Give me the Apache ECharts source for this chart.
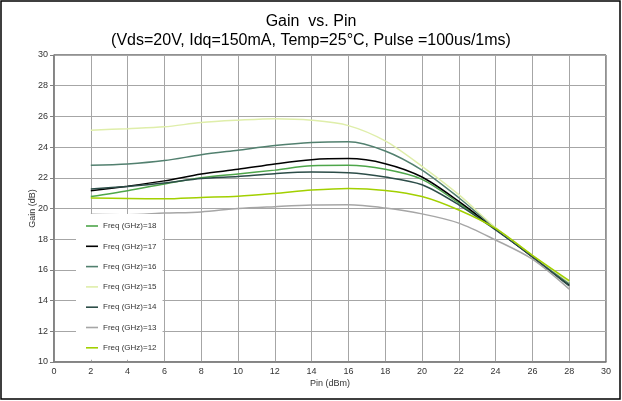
<!DOCTYPE html>
<html>
<head>
<meta charset="utf-8">
<script src="https://cdn.jsdelivr.net/npm/echarts@6/dist/echarts.min.js"></script>
<style>
  html, body { margin: 0; padding: 0; background: #fff; }
  #chart { width: 622px; height: 401px; }
</style>
</head>
<body>
<div id="chart"></div>
<script>
  // Pin (dBm) sample points
  var pin = [2, 4, 6, 8, 10, 12, 14, 16, 18, 20, 22, 24, 26, 28];

  // Gain (dB) per frequency
  var f18 = [20.78, 21.16, 21.6, 22.0, 22.25, 22.5, 22.78, 22.81, 22.55, 21.9, 20.35, 18.65, 16.9, 15.1];
  var f17 = [21.15, 21.45, 21.8, 22.25, 22.55, 22.9, 23.18, 23.25, 22.92, 22.05, 20.46, 18.65, 16.85, 15.0];
  var f16 = [22.81, 22.9, 23.12, 23.5, 23.8, 24.1, 24.3, 24.35, 23.75, 22.5, 20.7, 18.7, 16.9, 15.1];
  var f15 = [25.1, 25.2, 25.32, 25.6, 25.75, 25.85, 25.75, 25.4, 24.4, 22.75, 20.9, 18.75, 16.95, 15.2];
  var f14 = [21.27, 21.44, 21.66, 21.95, 22.09, 22.27, 22.37, 22.33, 22.05, 21.55, 20.24, 18.6, 16.85, 14.95];
  var f13 = [19.63, 19.6, 19.7, 19.78, 20.0, 20.12, 20.22, 20.24, 20.03, 19.65, 19.05, 17.95, 16.7, 14.75];
  var f12 = [20.68, 20.65, 20.63, 20.72, 20.8, 20.98, 21.2, 21.31, 21.18, 20.78, 19.9, 18.7, 16.95, 15.3];

  var names = ['Freq (GHz)=18', 'Freq (GHz)=17', 'Freq (GHz)=16', 'Freq (GHz)=15',
               'Freq (GHz)=14', 'Freq (GHz)=13', 'Freq (GHz)=12'];
  var values = [f18, f17, f16, f15, f14, f13, f12];
  var colors = ['#4ea64a', '#000000', '#52806f', '#dfeeaa', '#2c4d48', '#a6a6a6', '#a2d000'];

  function pairs(ys) {
    return pin.map(function (x, i) { return [x, ys[i]]; });
  }

  var font = 'Liberation Sans, Arial, sans-serif';

  var series = names.map(function (n, i) {
    return {
      name: n,
      type: 'line',
      smooth: 0.3,
      symbol: 'none',
      data: pairs(values[i]),
      lineStyle: { color: colors[i], width: 1.5 },
      itemStyle: { color: colors[i] }
    };
  });

  var option = {
    animation: false,
    backgroundColor: '#fff',
    color: colors,
    title: {
      text: 'Gain  vs. Pin\n(Vds=20V, Idq=150mA, Temp=25°C, Pulse =100us/1ms)',
      left: 'center',
      top: 7,
      textStyle: { fontFamily: font, fontSize: 16, fontWeight: 'normal', color: '#000', lineHeight: 19, align: 'center' }
    },
    legend: {
      orient: 'vertical',
      left: 76,
      top: 214,
      padding: [8, 6, 8, 10],
      backgroundColor: '#fff',
      icon: 'rect',
      itemWidth: 12,
      itemHeight: 1.6,
      itemGap: 12.3,
      data: names,
      textStyle: { fontFamily: font, fontSize: 8, lineHeight: 8, color: '#333' }
    },
    grid: {
      left: 54, right: 16, top: 55, bottom: 39,
      show: true,
      borderColor: '#222',
      borderWidth: 1
    },
    xAxis: {
      type: 'value',
      min: 0, max: 30, interval: 2,
      name: 'Pin (dBm)',
      nameLocation: 'middle',
      nameGap: 17,
      nameMoveOverlap: false,
      nameTextStyle: { fontFamily: font, fontSize: 9, color: '#333' },
      axisLine: { show: true, onZero: false, lineStyle: { color: '#808080', width: 1.5 } },
      axisTick: { show: false },
      axisLabel: { fontFamily: font, fontSize: 9, color: '#333', margin: 5 },
      splitLine: { show: true, lineStyle: { color: '#a6a6a6', width: 1 } }
    },
    yAxis: {
      type: 'value',
      min: 10, max: 30, interval: 2,
      name: 'Gain (dB)',
      nameLocation: 'middle',
      nameGap: 17,
      nameMoveOverlap: false,
      nameTextStyle: { fontFamily: font, fontSize: 9, color: '#333' },
      axisLine: { show: true, lineStyle: { color: '#808080', width: 1.5 } },
      axisTick: { show: true, length: 4, lineStyle: { color: '#808080' } },
      axisLabel: { fontFamily: font, fontSize: 9, color: '#333', margin: 6 },
      splitLine: { show: true, lineStyle: { color: '#a6a6a6', width: 1 } }
    },
    graphic: [{
      type: 'rect',
      shape: { x: 1, y: 1, width: 619, height: 398 },
      style: { fill: 'none', stroke: '#000', lineWidth: 1.5 },
      silent: true,
      z: 100
    }],
    series: series
  };

  var myChart = echarts.init(document.getElementById('chart'));
  myChart.setOption(option);
</script>
</body>
</html>
